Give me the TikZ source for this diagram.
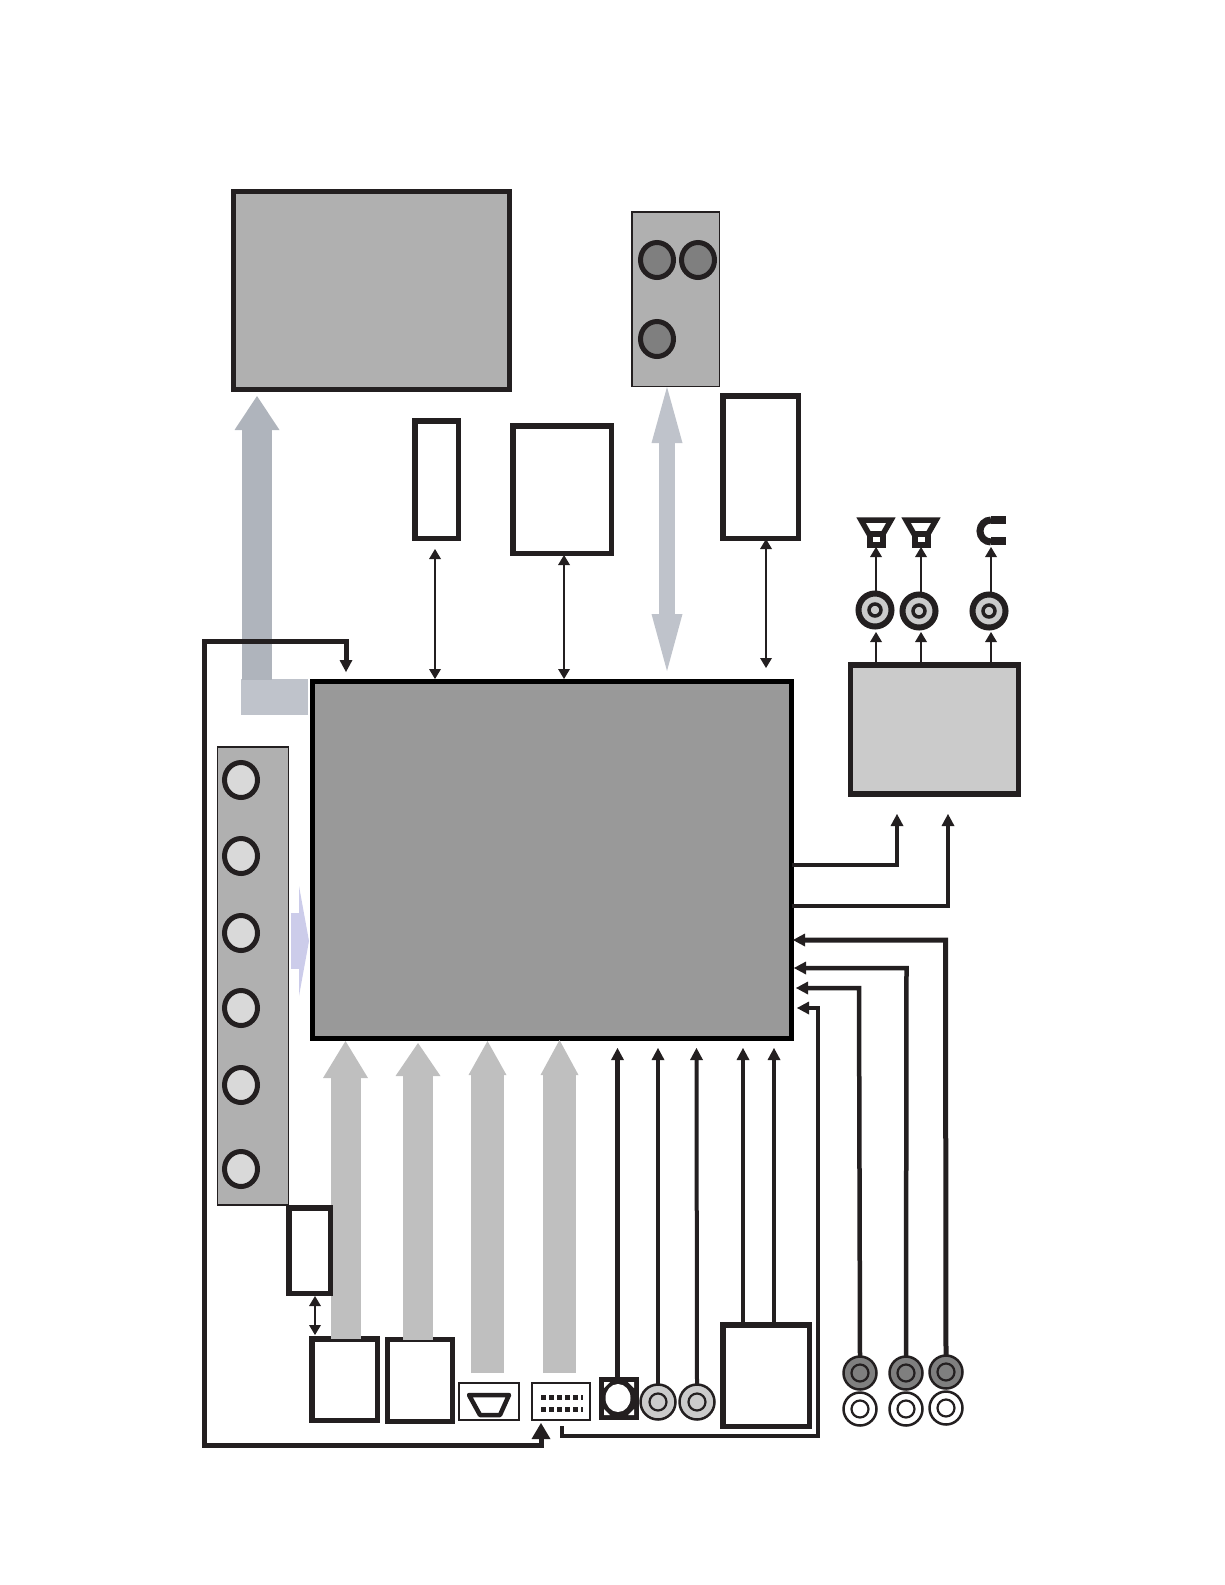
\documentclass[tikz,border=0pt]{standalone}
\usepackage{xcolor}
\usetikzlibrary{arrows.meta, shapes.geometric}
\definecolor{screengray}{HTML}{B0B0B0}
\definecolor{maingray}{HTML}{999999}
\definecolor{ampgray}{HTML}{CBCBCB}
\definecolor{portgray}{HTML}{7F7F7F}
\definecolor{knobgray}{HTML}{D9D9D9}
\definecolor{busgray}{HTML}{BFBFBF}
\definecolor{slate}{HTML}{AFB4BC}
\definecolor{paleslate}{HTML}{BFC3CB}
\definecolor{lilac}{HTML}{CCCCEA}
\definecolor{ink}{HTML}{231F20}
\tikzset{
    box/.style={draw=ink, line width=5.5pt, fill=white, rectangle, inner sep=0pt, outer sep=0pt},
    panel/.style={draw=ink, line width=1.5pt, fill=screengray, rectangle, inner sep=0pt, outer sep=0pt},
    socket/.style={draw=ink, line width=2.5pt, fill=white, rectangle, inner sep=0pt, outer sep=0pt},
    knob/.style={draw=ink, ellipse, inner sep=0pt, outer sep=0pt, line width=5pt, minimum width=33pt, minimum height=35pt},
    jack/.style={draw=ink, circle, inner sep=0pt, outer sep=0pt, line width=2.5pt, minimum size=33pt},
    ring/.style={draw=ink, circle, inner sep=0pt, outer sep=0pt, line width=2.2pt, minimum size=17pt},
    spk/.style={draw=ink, circle, inner sep=0pt, outer sep=0pt, line width=6pt, minimum size=33pt, fill=ampgray},
    signal/.style={draw=ink, line width=2.5pt},
    wire/.style={draw=ink, line width=4.5pt, line join=miter},
    smalltip/.tip={Triangle[length=10pt, width=12pt, line width=0pt]},
    wiretip/.tip={Triangle[length=12pt, width=13pt, line width=0pt]},
    bigtip/.tip={Triangle[length=16pt, width=19pt, line width=0pt]},
    speaker/.pic={
        \draw[ink, line width=5.5pt, fill=white] (-15,-26) -- (15,-26) -- (7,-12) -- (-7,-12) -- cycle;
        \draw[ink, line width=6pt, fill=white] (-6.5,-12) rectangle (6.5,-1);
    }
}

\begin{document}
\begin{tikzpicture}[x=1pt, y=-1pt]
    \useasboundingbox (0,0) rectangle (1225,1585);

    % display and cameras
    \node[box, fill=screengray, minimum width=276pt, minimum height=198pt] (screen) at (371.5,290.5) {};
    \node[panel, minimum width=87.5pt, minimum height=174.5pt] (campanel) at (675.5,299) {};
    \node[knob, fill=portgray] (camA) at (657,260) {};
    \node[knob, fill=portgray] (camB) at (698,260) {};
    \node[knob, fill=portgray] (camC) at (657,339) {};

    % upper boxes
    \node[box, minimum width=43.5pt, minimum height=117.5pt] (upA) at (436.5,479.5) {};
    \node[box, minimum width=98.5pt, minimum height=127.5pt] (upB) at (562,489.5) {};
    \node[box, minimum width=75.5pt, minimum height=142.5pt] (upC) at (760.5,467) {};

    % wide buses
    \node[fill=paleslate, inner sep=0pt, minimum width=67pt, minimum height=36pt] (elbow) at (274.5,697) {};
    \coordinate (dispFoot) at (257,680);
    \coordinate (dispTip) at (257,396);
    \draw[slate, line width=30pt, -{Triangle[length=34pt, width=45pt, line width=0pt]}] (dispFoot) -- (dispTip);
    \coordinate (camBusT) at (667,387);
    \coordinate (camBusB) at (667,671);
    \draw[paleslate, line width=16pt, {Triangle[length=56pt, width=31pt, line width=0pt]}-{Triangle[length=57pt, width=31pt, line width=0pt]}] (camBusT) -- (camBusB);

    % main chip
    \node[box, draw=black, fill=maingray, minimum width=479pt, minimum height=357pt] (main) at (552,860) {};

    % button panel
    \node[panel, minimum width=71pt, minimum height=458pt] (keys) at (253,976) {};
    \foreach \name/\ypos in {keyA/780, keyB/856, keyC/933, keyD/1008, keyE/1085, keyF/1169}
        \node[knob, fill=knobgray] (\name) at (241,\ypos) {};
    \coordinate (keyFrom) at (291,941);
    \coordinate (keyTo) at (309,941);
    \draw[lilac, line width=56pt, -{Triangle[length=10pt, width=110pt, line width=0pt]}] (keyFrom) -- (keyTo);

    % lower ports
    \node[box, minimum width=65.5pt, minimum height=81.5pt] (inA) at (344.5,1379.5) {};
    \node[box, minimum width=65pt, minimum height=82pt] (inB) at (420,1380.5) {};
    \node[socket, minimum width=60pt, minimum height=37pt] (vga) at (489,1401.5) {};
    \node[socket, minimum width=58pt, minimum height=37pt] (header) at (561,1401.5) {};
    \draw[ink, line width=4.5pt, line join=round] (469,1395) -- (509,1395) -- (500,1415) -- (480,1415) -- cycle;
    \foreach \xpos in {541,549,557,565,573}
        \foreach \ypos in {1397,1409}
            \fill[ink] (\xpos,\ypos-2.5) rectangle +(5,5);
    \foreach \ypos in {1397,1409}
        \fill[ink] (581,\ypos-2.5) rectangle +(2,5);

    % s-video socket
    \node[box, line width=4pt, fill=ink, minimum width=36pt, minimum height=39pt] (svideo) at (619,1398.5) {};
    \foreach \cx/\cy/\dx/\dy in {604/1382/6/6, 634/1382/-6/6, 604/1415/6/-6, 634/1415/-6/-6}
        \fill[white] (\cx,\cy) -- +(\dx,0) -- +(0,\dy) -- cycle;
    \node[ellipse, fill=white, inner sep=0pt, outer sep=0pt, minimum width=25pt, minimum height=28pt] (svhole) at (618,1398) {};

    \node[jack, fill=ampgray, minimum size=35pt] (cvA) at (658,1402) {};
    \node[ring, fill=ampgray] at (658,1402) {};
    \node[jack, fill=ampgray, minimum size=35pt] (cvB) at (697,1402) {};
    \node[ring, fill=ampgray] at (697,1402) {};
    \node[box, minimum width=86.5pt, minimum height=101.5pt] (tuner) at (766,1375.5) {};

    % bus arrows into the chip
    \coordinate (busTipA) at (345.5,1041);
    \coordinate (busTipB) at (418,1043);
    \coordinate (busTipC) at (487.5,1041);
    \coordinate (busTipD) at (559.5,1040);
    \coordinate (busFootC) at (487.5,1373);
    \coordinate (busFootD) at (559.5,1373);
    \draw[busgray, line width=30pt, -{Triangle[length=37pt, width=45pt, line width=0pt]}] (busTipA |- inA.north) -- (busTipA);
    \draw[busgray, line width=30pt, -{Triangle[length=33pt, width=45pt, line width=0pt]}] (busTipB |- inB.north) -- (busTipB);
    \draw[busgray, line width=33pt, -{Triangle[length=34pt, width=38pt, line width=0pt]}] (busFootC) -- (busTipC);
    \draw[busgray, line width=33pt, -{Triangle[length=35pt, width=38pt, line width=0pt]}] (busFootD) -- (busTipD);

    \node[box, minimum width=41.5pt, minimum height=85.5pt] (card) at (309.5,1250.5) {};
    \coordinate (cardA) at (315,1296);
    \coordinate (cardB) at (315,1335);
    \draw[signal, {smalltip}-{smalltip}] (cardA) -- (cardB);

    % thin links to upper boxes
    \coordinate (linkA) at (435,549);
    \coordinate (linkAb) at (435,679);
    \coordinate (linkB) at (564,555);
    \coordinate (linkBb) at (564,679);
    \coordinate (linkC) at (766,539);
    \coordinate (linkCb) at (766,668);
    \draw[signal, {smalltip}-{smalltip}] (linkA) -- (linkAb);
    \draw[signal, {smalltip}-{smalltip}] (linkB) -- (linkBb);
    \draw[signal, {smalltip}-{smalltip}] (linkC) -- (linkCb);

    % input wires from below
    \coordinate (upS) at (617.5,1048);
    \coordinate (upA1) at (658,1048);
    \coordinate (upA2) at (696.5,1048);
    \coordinate (upT1) at (743,1048);
    \coordinate (upT2) at (774,1048);
    \draw[wire, -{wiretip}] (upS |- svideo.north) -- (upS);
    \draw[wire, line width=4pt, -{wiretip}] (cvA.north) -- (upA1);
    \draw[wire, line width=4pt, -{wiretip}] (cvB.north) -- (upA2);
    \draw[wire, line width=4pt, -{wiretip}] (upT1 |- tuner.north) -- (upT1);
    \draw[wire, line width=4pt, -{wiretip}] (upT2 |- tuner.north) -- (upT2);

    % bus control wire
    \coordinate (ctlTop) at (346,672);
    \coordinate (ctlBot) at (541,1423);
    \draw[wire, line width=5pt, {wiretip}-{bigtip}] (ctlTop) -- (346,641) -- (204,641) -- (204,1445) -- (541,1445) -- (ctlBot);

    % rear jacks
    \node[jack, fill=portgray] (jackA) at (860,1373) {};
    \node[ring, fill=portgray] at (860,1373) {};
    \node[jack] (jackB) at (860,1409) {};
    \node[ring] at (860,1409) {};
    \node[jack, fill=portgray] (jackC) at (906,1373) {};
    \node[ring, fill=portgray] at (906,1373) {};
    \node[jack] (jackD) at (906,1409) {};
    \node[ring] at (906,1409) {};
    \node[jack, fill=portgray] (jackE) at (946,1372) {};
    \node[ring, fill=portgray] at (946,1372) {};
    \node[jack] (jackF) at (946,1408) {};
    \node[ring] at (946,1408) {};

    \coordinate (tipE) at (793,940);
    \coordinate (tipC) at (794,968);
    \coordinate (tipA) at (796,988);
    \coordinate (tipH) at (797,1008);
    \coordinate (headFoot) at (562,1426);
    \draw[wire, line width=5pt, -{wiretip}] (jackE.north) -- (945.5,940) -- (tipE);
    \draw[wire, -{wiretip}] (jackC.north) -- (906.5,968) -- (tipC);
    \draw[wire, -{wiretip}] (jackA.north) -- (859,988) -- (tipA);
    \draw[wire, -{wiretip}] (headFoot) -- (562,1436) -- (818,1436) -- (818,1008) -- (tipH);

    % audio amplifier
    \node[box, fill=ampgray, minimum width=168pt, minimum height=129pt] (amp) at (934.5,729.5) {};
    \coordinate (ampTipA) at (897,814);
    \coordinate (ampTipB) at (948,814);
    \draw[wire, -{wiretip}] (main.east |- 0,865) -- (897,865) -- (ampTipA);
    \draw[wire, -{wiretip}] (main.east |- 0,906) -- (948,906) -- (ampTipB);

    \node[spk] (outA) at (875,610) {};
    \node[spk] (outB) at (919,611) {};
    \node[spk] (outC) at (989,611) {};
    \node[ring, line width=3.5pt, minimum size=12pt, fill=ampgray] at (875,610) {};
    \node[ring, line width=3.5pt, minimum size=12pt, fill=ampgray] at (919,611) {};
    \node[ring, line width=3.5pt, minimum size=12pt, fill=ampgray] at (989,611) {};
    \coordinate (ampOutA) at (876,632);
    \coordinate (ampOutB) at (921,632);
    \coordinate (ampOutC) at (991,632);
    \draw[signal, -{smalltip}] (ampOutA |- amp.north) -- (ampOutA);
    \draw[signal, -{smalltip}] (ampOutB |- amp.north) -- (ampOutB);
    \draw[signal, -{smalltip}] (ampOutC |- amp.north) -- (ampOutC);

    \pic at (876,546) {speaker};
    \pic at (921,546) {speaker};
    \coordinate (spkInA) at (876,547);
    \coordinate (spkInB) at (921,547);
    \coordinate (phoneIn) at (991,547);
    \draw[signal, -{smalltip}] (outA.north -| spkInA) -- (spkInA);
    \draw[signal, -{smalltip}] (outB.north -| spkInB) -- (spkInB);
    \draw[signal, -{smalltip}] (outC.north -| phoneIn) -- (phoneIn);

    % headphone
    \draw[ink, line width=7pt] (991,520) arc[start angle=90, end angle=270, radius=11pt];
    \fill[ink] (991,516) rectangle (1006,524);
    \fill[ink] (991,537) rectangle (1006,545);
\end{tikzpicture}
\end{document}
